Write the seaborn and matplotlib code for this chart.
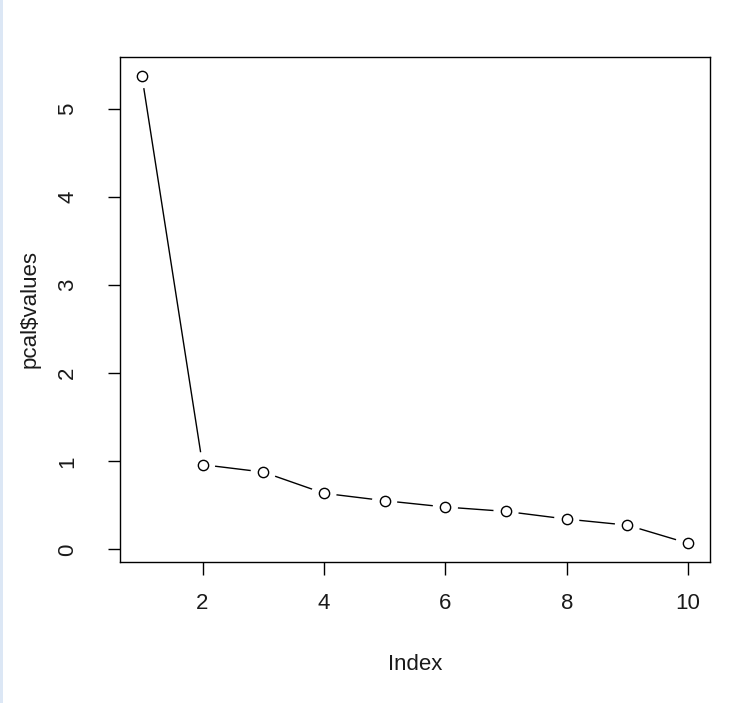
import matplotlib
matplotlib.use("Agg")
import matplotlib.pyplot as plt
import seaborn as sns
import pandas as pd
from matplotlib.patches import Rectangle

index = [1, 2, 3, 4, 5, 6, 7, 8, 9, 10]
values = [5.38, 0.962, 0.878, 0.637, 0.553, 0.481, 0.431, 0.344, 0.275, 0.069]
x_ticks = [2, 4, 6, 8, 10]
y_ticks = [0, 1, 2, 3, 4, 5]

df = pd.DataFrame({"Index": index, "values": values})

sns.set_style("ticks")
plt.rcParams["font.family"] = ["Liberation Sans", "DejaVu Sans"]

fig = plt.figure(figsize=(7.48, 7.03), dpi=100)
fig.patches.append(Rectangle((0, 0), 3 / 748, 1, transform=fig.transFigure,
                             facecolor="#dce7f5", edgecolor="none"))
ax = fig.add_axes([120 / 748, 1 - 562 / 703, 590 / 748, 505 / 703])

sns.lineplot(data=df, x="Index", y="values", color="black", linewidth=1.0, ax=ax, zorder=1)
# white halo to create R type="b" gaps
ax.scatter(df["Index"], df["values"], s=330, color="white", edgecolors="none", zorder=2)
sns.scatterplot(data=df, x="Index", y="values", s=55, facecolor="white",
                edgecolor="black", linewidth=1.0, ax=ax, zorder=3)

xmin, xmax = min(index), max(index)
ymin, ymax = min(values), max(values)
ax.set_xlim(xmin - 0.04 * (xmax - xmin), xmax + 0.04 * (xmax - xmin))
ax.set_ylim(ymin - 0.04 * (ymax - ymin), ymax + 0.04 * (ymax - ymin))
ax.set_xticks(x_ticks)
ax.set_yticks(y_ticks)
ax.tick_params(axis="both", length=9, width=1, color="black", labelsize=16, labelcolor="#1a1a1a")
ax.tick_params(axis="x", pad=13)
ax.tick_params(axis="y", pad=21)
for lab in ax.get_yticklabels():
    lab.set_rotation(90)
    lab.set_va("center")
for s in ax.spines.values():
    s.set_visible(True)
    s.set_linewidth(1.0)
    s.set_color("black")
ax.set_xlabel("Index", fontsize=16, color="#1a1a1a", labelpad=29)
ax.set_ylabel(r"pcal\$values", fontsize=16, color="#1a1a1a", labelpad=12)

fig.savefig("out.png", dpi=100)
